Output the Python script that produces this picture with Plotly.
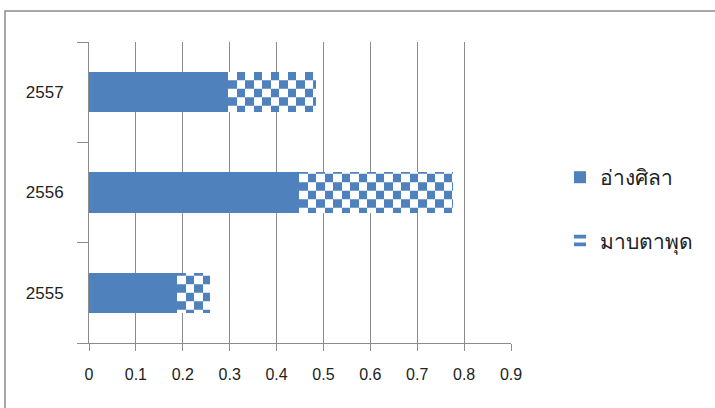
import numpy as np
import plotly.graph_objects as go

# Data
years = ["2555", "2556", "2557"]
ang_sila = [0.188, 0.448, 0.297]      # อ่างศิลา (solid)
map_ta_phut = [0.071, 0.327, 0.187]   # มาบตาพุด (checkered)
x_ticks = [0, 0.1, 0.2, 0.3, 0.4, 0.5, 0.6, 0.7, 0.8, 0.9]

BLUE = "#4F81BD"
GRID = "#8c8c8c"
W, H = 715, 408
M_L, M_R, M_T, M_B = 89, 204, 42, 65
X_MIN, X_MAX = 0, 0.9
PLOT_W = W - M_L - M_R

# checkerboard cell size in pixels -> data units
CELL_PX = 8.5
cell = CELL_PX * (X_MAX - X_MIN) / PLOT_W

fig = go.Figure()

fig.add_trace(go.Bar(
    y=years, x=ang_sila, orientation="h", name="อ่างศิลา",
    marker=dict(color=BLUE, line=dict(width=0)),
    legendgroup="a",
))

# The checkered segment is built from alternating columns of horizontal
# stripes; neighbouring columns swap stripe/background colours so the
# stripes form a checkerboard.
n_cols = int(np.ceil(max(map_ta_phut) / cell))
for k in range(n_cols):
    widths = []
    for v in map_ta_phut:
        w = min(cell, v - k * cell)
        widths.append(w if w > 1e-9 else None)
    even = (k % 2 == 0)
    fig.add_trace(go.Bar(
        y=years, x=widths, orientation="h", name="มาบตาพุด",
        marker=dict(
            color=BLUE, line=dict(width=0),
            pattern=dict(shape="-", size=2 * CELL_PX, solidity=0.5,
                         fgopacity=1, fillmode="replace",
                         fgcolor=BLUE if even else "white",
                         bgcolor="white" if even else BLUE),
        ),
        legendgroup="b", showlegend=(k == 0), hoverinfo="skip",
    ))

fig.update_layout(
    width=W, height=H,
    margin=dict(l=M_L, r=M_R, t=M_T, b=M_B),
    barmode="stack", bargap=0.6,
    plot_bgcolor="white", paper_bgcolor="white",
    font=dict(family="Liberation Sans, DejaVu Sans, sans-serif", color="#222"),
    legend=dict(
        x=(560 - M_L) / PLOT_W, xanchor="left",
        y=0.445, yanchor="middle",
        traceorder="grouped", tracegroupgap=33,
        font=dict(size=21, color="#222"),
        bgcolor="rgba(0,0,0,0)",
    ),
    showlegend=True,
)

fig.update_xaxes(
    range=[X_MIN, X_MAX], tickvals=x_ticks,
    ticktext=[f"{v:g}" for v in x_ticks],
    showgrid=True, gridcolor=GRID, gridwidth=1,
    showline=True, linecolor=GRID, linewidth=1,
    ticks="outside", ticklen=7, tickcolor=GRID,
    tickfont=dict(size=16, color="#222"),
    ticklabelstandoff=10,
    zeroline=False, fixedrange=True,
)
fig.update_yaxes(
    type="category", categoryorder="array", categoryarray=years,
    showgrid=False,
    showline=True, linecolor=GRID, linewidth=1,
    ticks="outside", ticklen=11, tickcolor=GRID, tickson="boundaries",
    tickfont=dict(size=17, color="#222"),
    ticklabelstandoff=21,
    zeroline=False, fixedrange=True,
)

# chart-area frame
PLOT_H = H - M_T - M_B
fig.add_shape(
    type="rect", xref="paper", yref="paper",
    x0=(5 - M_L) / PLOT_W, x1=2.0,
    y0=-1.0, y1=(H - M_B - 11) / PLOT_H,
    line=dict(color=GRID, width=1.5), fillcolor="rgba(0,0,0,0)", layer="below",
)

fig.write_html("out.html")
